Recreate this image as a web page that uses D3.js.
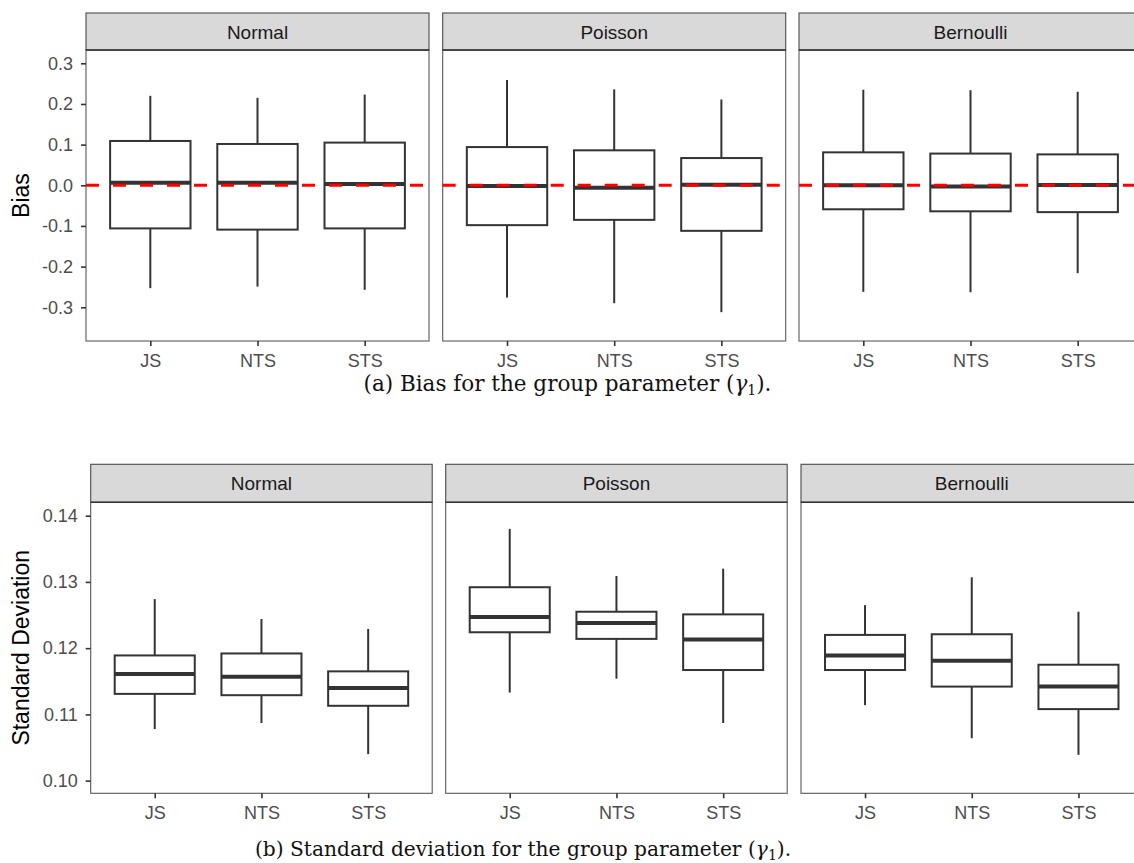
<!DOCTYPE html>
<html>
<head>
<meta charset="utf-8">
<script src="https://cdn.jsdelivr.net/npm/d3@7"></script>
<style>
  body { margin: 0; background: #fff; }
  svg { display: block; }
</style>
</head>
<body>
<svg width="1134" height="863"></svg>
<script>
// data: [lower whisker, q1, median, q3, upper whisker]
const families = ['Normal', 'Poisson', 'Bernoulli'];
const methods = ['JS', 'NTS', 'STS'];

const biasNormal = [
  [-0.253, -0.106, 0.0065, 0.109, 0.220],
  [-0.249, -0.109, 0.006, 0.1016, 0.215],
  [-0.257, -0.106, 0.003, 0.105, 0.223]
];
const biasPoisson = [
  [-0.276, -0.098, -0.002, 0.094, 0.259],
  [-0.290, -0.085, -0.006, 0.086, 0.236],
  [-0.312, -0.112, 0.0015, 0.067, 0.211]
];
const biasBernoulli = [
  [-0.262, -0.059, 0.0, 0.081, 0.235],
  [-0.263, -0.064, -0.003, 0.078, 0.234],
  [-0.216, -0.066, 0.001, 0.076, 0.230]
];

const sdNormal = [
  [0.1078, 0.1131, 0.1161, 0.1189, 0.1274],
  [0.1087, 0.1129, 0.1157, 0.1192, 0.1244],
  [0.1040, 0.1113, 0.1140, 0.1165, 0.1229]
];
const sdPoisson = [
  [0.1133, 0.1224, 0.1247, 0.1292, 0.1380],
  [0.1154, 0.1214, 0.1238, 0.1255, 0.1309],
  [0.1087, 0.1167, 0.1213, 0.1251, 0.1320]
];
const sdBernoulli = [
  [0.1114, 0.1167, 0.1189, 0.1220, 0.1265],
  [0.1064, 0.1142, 0.1181, 0.1221, 0.1307],
  [0.1039, 0.1108, 0.1142, 0.1175, 0.1255]
];

const biasTicks = [0.3, 0.2, 0.1, 0.0, -0.1, -0.2, -0.3];
const sdTicks = [0.14, 0.13, 0.12, 0.11, 0.10];

const svg = d3.select('svg');
const sans = 'Liberation Sans, Arial, sans-serif';
const serif = 'DejaVu Serif, Liberation Serif, serif';

function drawFigure(opt) {
  const g = svg.append('g');
  const y = d3.scaleLinear().domain(opt.domain).range([opt.bottom, opt.stripBottom]);

  opt.data.forEach((boxes, i) => {
    const x0 = opt.lefts[i];
    const x = d3.scalePoint().domain(methods).range([x0, x0 + opt.width]).padding(0.6);
    const bw = x.step() * 0.75;
    const p = g.append('g');

    // panel background + border
    p.append('rect')
        .attr('x', x0).attr('y', opt.stripBottom)
        .attr('width', opt.width).attr('height', opt.bottom - opt.stripBottom)
        .attr('fill', '#fff').attr('stroke', '#5a5a5a').attr('stroke-width', 1.1);

    // strip
    p.append('rect')
        .attr('x', x0).attr('y', opt.stripTop)
        .attr('width', opt.width).attr('height', opt.stripBottom - opt.stripTop)
        .attr('fill', '#d9d9d9').attr('stroke', '#4a4a4a').attr('stroke-width', 1.1);
    p.append('line')
        .attr('x1', x0).attr('x2', x0 + opt.width)
        .attr('y1', opt.stripBottom).attr('y2', opt.stripBottom)
        .attr('stroke', '#333').attr('stroke-width', 1.6);
    p.append('text')
        .attr('x', x0 + opt.width / 2).attr('y', (opt.stripTop + opt.stripBottom) / 2 + 7)
        .attr('text-anchor', 'middle')
        .attr('font-family', sans).attr('font-size', 19).attr('fill', '#1a1a1a')
        .text(families[i]);

    const box = p.selectAll('g.box').data(boxes).join('g').attr('class', 'box')
        .attr('transform', (d, j) => `translate(${x(methods[j])},0)`);

    box.append('line')
        .attr('y1', d => y(d[0])).attr('y2', d => y(d[1]))
        .attr('stroke', '#333').attr('stroke-width', 2);
    box.append('line')
        .attr('y1', d => y(d[3])).attr('y2', d => y(d[4]))
        .attr('stroke', '#333').attr('stroke-width', 2);
    box.append('rect')
        .attr('x', -bw / 2).attr('width', bw)
        .attr('y', d => y(d[3])).attr('height', d => y(d[1]) - y(d[3]))
        .attr('fill', '#fff').attr('stroke', '#333').attr('stroke-width', 2);
    box.append('line')
        .attr('x1', -bw / 2).attr('x2', bw / 2)
        .attr('y1', d => y(d[2])).attr('y2', d => y(d[2]))
        .attr('stroke', '#333').attr('stroke-width', 4);

    if (opt.refLine !== undefined) {
      p.append('line')
          .attr('x1', x0).attr('x2', x0 + opt.width)
          .attr('y1', y(opt.refLine)).attr('y2', y(opt.refLine))
          .attr('stroke', '#ff0000').attr('stroke-width', 3)
          .attr('stroke-dasharray', '13 14');
    }

    // x axis
    const xa = p.append('g')
        .attr('transform', `translate(0,${opt.bottom})`)
        .call(d3.axisBottom(x).tickSize(5).tickPadding(8));
    xa.select('.domain').remove();
    xa.selectAll('line').attr('stroke', '#333').attr('stroke-width', 1.6);
    xa.selectAll('text').attr('font-family', sans).attr('font-size', 18).attr('fill', '#4d4d4d');

    if (i === 0) {
      const ya = p.append('g')
          .attr('transform', `translate(${x0},0)`)
          .call(d3.axisLeft(y).tickValues(opt.ticks)
            .tickFormat(d => d3.format(opt.fmt)(d).replace('\u2212', '-'))
            .tickSize(5).tickPadding(8));
      ya.select('.domain').remove();
      ya.selectAll('line').attr('stroke', '#333').attr('stroke-width', 1.6);
      ya.selectAll('text').attr('font-family', sans).attr('font-size', 18).attr('fill', '#4d4d4d');

      g.append('text')
          .attr('transform', `translate(29,${(opt.stripBottom + opt.bottom) / 2}) rotate(-90)`)
          .attr('text-anchor', 'middle')
          .attr('font-family', sans).attr('font-size', 23).attr('fill', '#000')
          .text(opt.title);
    }
  });

  g.append('text')
      .attr('x', opt.captionX).attr('y', opt.captionY)
      .attr('text-anchor', 'middle')
      .attr('font-family', serif).attr('font-size', opt.captionSize).attr('fill', '#111')
      .html(opt.caption);
}

drawFigure({
  data: [biasNormal, biasPoisson, biasBernoulli],
  lefts: [86, 442.7, 799],
  width: 343,
  stripTop: 13, stripBottom: 50, bottom: 341,
  domain: [-0.3829, 0.3327],
  ticks: biasTicks,
  fmt: '.1f',
  refLine: 0,
  title: 'Bias',
  caption: '(a) Bias for the group parameter (<tspan font-style="italic">γ</tspan><tspan font-size="14" dy="4">1</tspan><tspan dy="-4">).</tspan>',
  captionSize: 21.5,
  captionX: 567.5, captionY: 391
});

drawFigure({
  data: [sdNormal, sdPoisson, sdBernoulli],
  lefts: [90.7, 445.7, 801],
  width: 341.5,
  stripTop: 464.3, stripBottom: 502.3, bottom: 793.3,
  domain: [0.09809, 0.14202],
  ticks: sdTicks,
  fmt: '.2f',
  title: 'Standard Deviation',
  caption: '(b) Standard deviation for the group parameter (<tspan font-style="italic">γ</tspan><tspan font-size="14" dy="4">1</tspan><tspan dy="-4">).</tspan>',
  captionSize: 20.2,
  captionX: 523, captionY: 856
});
</script>
</body>
</html>
